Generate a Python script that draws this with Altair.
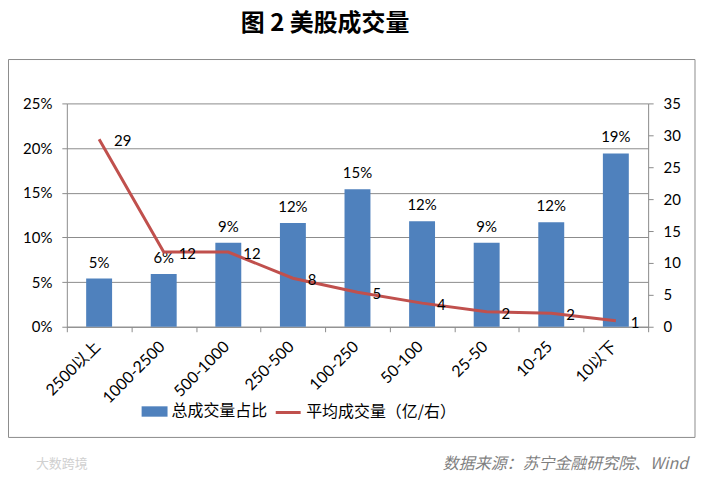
import altair as alt
import pandas as pd

categories = ["2500以上", "1000-2500", "500-1000", "250-500", "100-250", "50-100", "25-50", "10-25", "10以下"]
share = [0.054, 0.059, 0.094, 0.116, 0.154, 0.118, 0.094, 0.117, 0.194]
avg_volume = [29.4, 11.7, 11.7, 7.6, 5.4, 3.7, 2.35, 2.1, 0.94]
left_ticks = [0, 0.05, 0.10, 0.15, 0.20, 0.25]
right_ticks = [0, 5, 10, 15, 20, 25, 30, 35]
bar_name = "总成交量占比"
line_name = "平均成交量（亿/右）"
title_text = "图 2 美股成交量"
source_text = "数据来源：苏宁金融研究院、Wind"
watermark_text = "大数跨境"

df = pd.DataFrame({"cat": categories, "share": share, "avg": avg_volume,
                   "bs": bar_name, "ls": line_name})

FONT = "Lato, 'Noto Sans CJK SC', sans-serif"
CJK = "'Noto Sans CJK SC', sans-serif"
GRID = "#8c8c8c"

x_enc = alt.X("cat:N", sort=categories, title=None,
              scale=alt.Scale(paddingInner=0, paddingOuter=0),
              axis=alt.Axis(labelAngle=-45, labelAlign="right", labelBaseline="middle",
                            tickBand="extent", tickSize=5, tickColor=GRID, domainColor=GRID,
                            labelFontSize=16, labelFont=FONT, labelColor="#000000",
                            labelPadding=12, labelOffset=-2))

y_left = alt.Y("share:Q", title=None,
               scale=alt.Scale(domain=[0, 0.25], nice=False),
               axis=alt.Axis(values=left_ticks, format=".0%", grid=True, gridColor=GRID,
                             domainColor=GRID, tickColor=GRID, tickSize=5,
                             labelFontSize=15, labelFont=FONT, labelColor="#000000",
                             labelPadding=10, labelOverlap=False))

y_right = alt.Y("avg:Q", title=None,
                scale=alt.Scale(domain=[0, 35], nice=False),
                axis=alt.Axis(orient="right", values=right_ticks, grid=False,
                              domainColor=GRID, tickColor=GRID, tickSize=5,
                              labelFontSize=15, labelFont=FONT, labelColor="#000000",
                              labelPadding=10, labelOverlap=False, tickCount=8))

base = alt.Chart(df)

bars = base.mark_bar(size=26).encode(
    x=x_enc, y=y_left,
    fill=alt.Fill("bs:N", title=None,
                  scale=alt.Scale(domain=[bar_name], range=["#4F81BD"]),
                  legend=alt.Legend(orient="none", legendX=75, legendY=296,
                                    symbolType="M-1,-0.4H1V0.4H-1Z", symbolSize=676,
                                    symbolStrokeWidth=0, labelFontSize=16, labelFont=CJK,
                                    labelColor="#000000", padding=0)),
)
bar_labels = base.mark_text(baseline="alphabetic", dy=-11, fontSize=15, font=FONT,
                            color="#000000").encode(
    x=x_enc, y=y_left, text=alt.Text("share:Q", format=".0%"))

left_layer = alt.layer(bars, bar_labels)

line = base.mark_line(strokeWidth=3).encode(
    x=x_enc, y=y_right,
    stroke=alt.Stroke("ls:N", title=None,
                      scale=alt.Scale(domain=[line_name], range=["#C0504D"]),
                      legend=alt.Legend(orient="none", legendX=208, legendY=296,
                                        symbolType="stroke", symbolSize=625,
                                        symbolStrokeWidth=3, labelFontSize=16, labelFont=CJK,
                                        labelColor="#000000", padding=0)),
)
line_labels = base.mark_text(align="left", baseline="middle", dx=15, dy=2, fontSize=15,
                             font=FONT, color="#000000").encode(
    x=x_enc, y=y_right, text=alt.Text("avg:Q", format=".0f"))

right_layer = alt.layer(line, line_labels)

deco_df = pd.DataFrame({"t": [title_text]})
title = alt.Chart(deco_df).mark_text(fontSize=24, fontWeight="bold", font=CJK,
                                     color="#000000", baseline="middle").encode(
    text="t:N", x=alt.value(259), y=alt.value(-80))
border = alt.Chart(deco_df).mark_rect(fill=None, stroke=GRID, strokeWidth=1).encode(
    x=alt.value(-58.5), x2=alt.value(630), y=alt.value(-44), y2=alt.value(335))
source = alt.Chart(pd.DataFrame({"t": [source_text]})).mark_text(
    fontSize=16, fontStyle="italic", font=CJK, color="#7f7f7f", align="right",
    baseline="middle").encode(text="t:N", x=alt.value(623), y=alt.value(362))
watermark = alt.Chart(pd.DataFrame({"t": [watermark_text]})).mark_text(
    fontSize=13, font=CJK, color="#d0d0d0", align="left", baseline="middle").encode(
    text="t:N", x=alt.value(-31), y=alt.value(362))

chart = alt.layer(border, left_layer, right_layer, title, source, watermark).resolve_scale(
    y="independent", fill="independent", stroke="independent"
).properties(
    width=583, height=224,
    autosize=alt.AutoSizeParams(type="none"),
    padding={"left": 59, "top": 95, "right": 49, "bottom": 146},
    background="#ffffff",
).configure_view(stroke=None)

chart.save("out.html", embed_options={"renderer": "svg", "actions": False})
